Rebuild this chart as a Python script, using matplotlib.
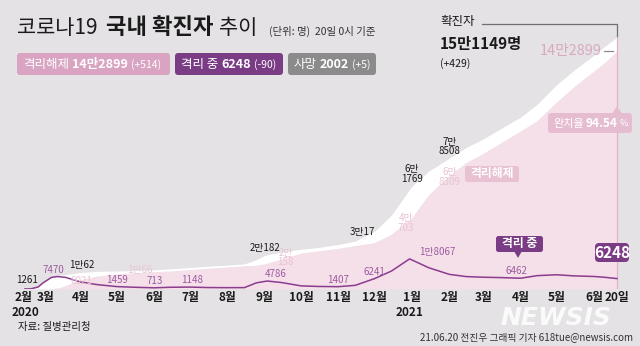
import numpy as np
import pandas as pd
import matplotlib
matplotlib.use("Agg")
import matplotlib.pyplot as plt
import matplotlib.dates as mdates
from matplotlib.patches import FancyBboxPatch, Polygon

plt.rcParams["font.family"] = ["Noto Sans CJK KR", "DejaVu Sans"]

# cumulative series (persons)
dates = ["2020-02-15", "2020-02-20", "2020-02-26", "2020-03-01", "2020-03-08", "2020-03-15",
         "2020-04-01", "2020-04-15", "2020-05-01", "2020-05-15", "2020-06-01", "2020-06-15",
         "2020-07-01", "2020-07-15", "2020-08-01", "2020-08-15", "2020-08-25", "2020-09-01",
         "2020-09-15", "2020-10-01", "2020-10-15", "2020-11-01", "2020-11-15", "2020-12-01",
         "2020-12-15", "2021-01-01", "2021-01-15", "2021-02-01", "2021-02-15", "2021-03-01",
         "2021-03-15", "2021-04-01", "2021-04-15", "2021-05-01", "2021-05-15", "2021-06-01",
         "2021-06-10", "2021-06-20"]
confirmed = [28, 104, 1261, 3736, 7134, 8162,
             9887, 10591, 10774, 11018, 11503, 12121,
             12850, 13612, 14336, 15039, 17665, 20182,
             22285, 23812, 24889, 26732, 28769, 34652,
             44364, 61769, 70728, 78508, 84946, 90029,
             96017, 103088, 111004, 122634, 131061, 140340,
             145692, 151149]
released = [9, 16, 24, 30, 130, 834,
            5567, 7757, 9072, 9695, 10422, 10800,
            11684, 12448, 13233, 13901, 14300, 15198,
            18050, 21548, 22930, 24395, 26074, 27825,
            32947, 42953, 56758, 68309, 75934, 81364,
            87419, 94829, 101166, 112269, 121238, 130877,
            136000, 142899]
iso_dates = ["2020-02-15", "2020-02-20", "2020-02-26", "2020-03-01", "2020-03-08", "2020-03-13",
             "2020-03-20", "2020-04-01", "2020-04-15", "2020-05-01", "2020-05-15", "2020-06-01",
             "2020-06-15", "2020-07-01", "2020-07-15", "2020-08-01", "2020-08-15", "2020-08-25",
             "2020-09-03", "2020-09-15", "2020-10-01", "2020-10-15", "2020-11-01", "2020-11-15",
             "2020-12-01", "2020-12-15", "2020-12-30", "2021-01-15", "2021-02-01", "2021-02-15",
             "2021-03-01", "2021-03-15", "2021-04-01", "2021-04-15", "2021-05-01", "2021-05-15",
             "2021-06-01", "2021-06-10", "2021-06-20"]
isolated = [19, 90, 1226, 3680, 6950, 7470,
            6934, 4216, 2627, 1459, 1062, 713,
            1044, 1148, 880, 803, 833, 3700,
            4786, 3855, 1878, 1524, 1407, 2204,
            6241, 10780, 18067, 12730, 8779, 7450,
            7061, 6867, 6462, 8024, 8540, 7886,
            7505, 7000, 6248]

month_ticks = ["2020-02-14", "2020-03-03", "2020-04-01", "2020-05-01", "2020-06-01", "2020-07-01",
               "2020-08-01", "2020-09-01", "2020-10-01", "2020-11-01", "2020-12-01", "2021-01-01",
               "2021-02-01", "2021-03-01", "2021-04-01", "2021-05-01", "2021-06-01", "2021-06-20"]
month_labels = ["2월", "3월", "4월", "5월", "6월", "7월", "8월", "9월", "10월", "11월", "12월",
                "1월", "2월", "3월", "4월", "5월", "6월", "20일"]

# point labels: (date, value, text)
conf_labels = [("2020-02-26", 1261, "1261"), ("2020-04-02", 10062, "1만62"),
               ("2020-09-01", 20182, "2만182"), ("2020-11-21", 30017, "3만17"),
               ("2021-01-01", 61769, "6만\n1769"), ("2021-02-01", 78508, "7만\n8508")]
rel_labels = [("2020-04-02", 6021, "6021"), ("2020-05-20", 10066, "1만66"),
              ("2020-09-18", 20158, "2만\n158"), ("2020-12-27", 40703, "4만\n703"),
              ("2021-02-01", 68309, "6만\n8309")]
iso_labels = [("2020-03-10", 7470, "7470"), ("2020-05-01", 1459, "1459"),
              ("2020-06-02", 713, "713"), ("2020-07-03", 1148, "1148"),
              ("2020-09-10", 4786, "4786"), ("2020-11-01", 1407, "1407"),
              ("2020-12-01", 6241, "6241"), ("2021-03-29", 6462, "6462")]

BG = "#e4e2e4"
PINK_AREA = "#f5dfe9"
PINK_TXT = "#e9c3d4"
PURPLE = "#8a3d8e"
BLACK = "#1a1a1a"

fig = plt.figure(figsize=(6.4, 3.46), dpi=100, facecolor=BG)
ax = fig.add_axes([0, 57 / 346, 1, 289 / 346])
ax.set_facecolor(BG)
for s in ax.spines.values():
    s.set_visible(False)

d = pd.to_datetime(dates)
di = pd.to_datetime(iso_dates)
ax.fill_between(d, 0, released, color=PINK_AREA, lw=0, zorder=1)
ax.fill_between(d, released, confirmed, color="white", lw=0, zorder=1)
ax.plot(di, isolated, color=PURPLE, lw=1.1, zorder=3)
ax.vlines(d[-1], 0, confirmed[-1], color="#e3b2c8", lw=0.9, zorder=2)

# axis scaling: 3월 at px 43, 20일 at px 617
ppd = 574 / 476
x0 = mdates.date2num(pd.Timestamp("2020-03-01")) - 43 / ppd
x1 = mdates.date2num(pd.Timestamp("2021-06-20")) + 23 / ppd
ax.set_xlim(x0, x1)
ax.set_ylim(0, 289 * 600)
ax.set_yticks([])
ax.set_xticks(pd.to_datetime(month_ticks))
ax.set_xticklabels(month_labels, fontsize=8.5, fontweight="bold", color=BLACK)
ax.tick_params(axis="x", length=0, pad=1.5)

for dt, v, t in conf_labels:
    ax.annotate(t, (pd.Timestamp(dt), v), xytext=(0, 2), textcoords="offset pixels",
                ha="right" if t == "1261" else "center", va="bottom", fontsize=7,
                color=BLACK, linespacing=0.95, zorder=5)
for dt, v, t in rel_labels:
    dy = 2 if t == "1만66" else -2
    ax.annotate(t, (pd.Timestamp(dt), v), xytext=(0, dy), textcoords="offset pixels",
                ha="center", va="center", fontsize=7, color=PINK_TXT,
                linespacing=0.95, zorder=5)
for dt, v, t in iso_labels:
    ax.annotate(t, (pd.Timestamp(dt), v), xytext=(0, 2), textcoords="offset pixels",
                ha="center", va="bottom", fontsize=7, color="#9d5ca0", zorder=5)
ax.annotate("1만8067", (pd.Timestamp("2020-12-30"), 18067), xytext=(10, 2),
            textcoords="offset pixels", ha="left", va="bottom", fontsize=7,
            color="#9d5ca0", zorder=5)

# overlay in pixel coordinates for annotations
ov = fig.add_axes([0, 0, 1, 1], facecolor="none")
ov.set_xlim(0, 640)
ov.set_ylim(346, 0)
ov.axis("off")
renderer = fig.canvas.get_renderer()


def seq_text(x, y, parts, gap=3):
    # place text pieces one after another on a line
    for txt, wt, fs in parts:
        t = ov.text(x, y, txt, fontsize=fs, va="center", color="white", fontweight=wt)
        bb = t.get_window_extent(renderer=renderer)
        x += bb.width + gap
    return x


# title
ov.text(17, 28, "코로나19", fontsize=15, va="center", color=BLACK)
ov.text(106, 28, "국내 확진자", fontsize=16, va="center", fontweight="bold", color=BLACK)
ov.text(219, 28, "추이", fontsize=15, va="center", color=BLACK)
ov.text(269, 31, "(단위: 명)  20일 0시 기준", fontsize=7.5, va="center", color="#333333")


def badge(x, w, color, parts):
    ov.add_patch(FancyBboxPatch((x, 53), w, 22, boxstyle="round,pad=0,rounding_size=3",
                                fc=color, ec="none"))
    seq_text(x + 6, 64.5, parts)


badge(17, 153, "#d9a3c2", [("격리해제", "normal", 9), ("14만2899", "bold", 9),
                           ("(+514)", "normal", 7.5)])
badge(175, 108, "#7b3c86", [("격리 중", "normal", 9), ("6248", "bold", 9),
                            ("(-90)", "normal", 7.5)])
badge(288, 88, "#8c8b8c", [("사망", "normal", 9), ("2002", "bold", 9),
                           ("(+5)", "normal", 7.5)])

# confirmed total callout
ov.text(440, 22, "확진자", fontsize=9, va="center", color=BLACK)
ov.text(440, 44, "15만1149명", fontsize=11, va="center", fontweight="bold", color=BLACK)
ov.text(440, 64, "(+429)", fontsize=7.5, va="center", color=BLACK)
ov.plot([482, 617, 617], [24, 24, 36], color="#707070", lw=0.9)
ov.text(602, 51, "14만2899", fontsize=10.5, ha="right", va="center", color="#d9a9c0")
ov.plot([604, 613], [51, 51], color="#8a8a8a", lw=0.9)

# recovery rate box
ov.add_patch(FancyBboxPatch((548, 113), 84, 20, boxstyle="round,pad=0,rounding_size=3",
                            fc="#e6bdd0", ec="none"))
ov.add_patch(Polygon([[612, 113.5], [617, 106], [622, 113.5]], fc="#e6bdd0", ec="none"))
seq_text(553, 123.5, [("완치율", "normal", 8), ("94.54", "bold", 8.5), ("%", "normal", 6.5)], gap=2)

# series tags
ov.add_patch(FancyBboxPatch((465, 166), 54, 16, boxstyle="round,pad=0,rounding_size=2.5",
                            fc="#e8c1d2", ec="none"))
ov.text(492, 174, "격리해제", fontsize=8.5, ha="center", va="center", fontweight="bold",
        color="white")
ov.add_patch(FancyBboxPatch((496, 236), 47, 16, boxstyle="round,pad=0,rounding_size=2.5",
                            fc="#7b3c86", ec="none"))
ov.add_patch(Polygon([[514, 251], [518, 258], [522, 251]], fc="#7b3c86", ec="none"))
ov.text(519.5, 244, "격리 중", fontsize=8.5, ha="center", va="center", fontweight="bold",
        color="white")
ov.add_patch(FancyBboxPatch((595, 243), 34, 19, boxstyle="round,pad=0,rounding_size=4",
                            fc="#7b3c86", ec="none"))
ov.text(612, 252.5, "6248", fontsize=11, ha="center", va="center", fontweight="bold",
        color="white")

# years, source, credits
ov.text(25, 312, "2020", fontsize=8.5, ha="center", va="center", fontweight="bold", color=BLACK)
ov.text(410, 312, "2021", fontsize=8.5, ha="center", va="center", fontweight="bold", color=BLACK)
ov.text(18, 327, "자료: 질병관리청", fontsize=7.5, va="center", color=BLACK)
ov.text(556, 318, "NEWSIS", fontsize=18, ha="center", va="center", fontweight="bold",
        style="italic", color="white", alpha=0.85, family="DejaVu Sans")
ov.text(633, 337, "21.06.20 전진우 그래픽 기자 618tue@newsis.com", fontsize=7, ha="right",
        va="center", color="#333333")

fig.savefig("out.png", dpi=100, facecolor=BG)
